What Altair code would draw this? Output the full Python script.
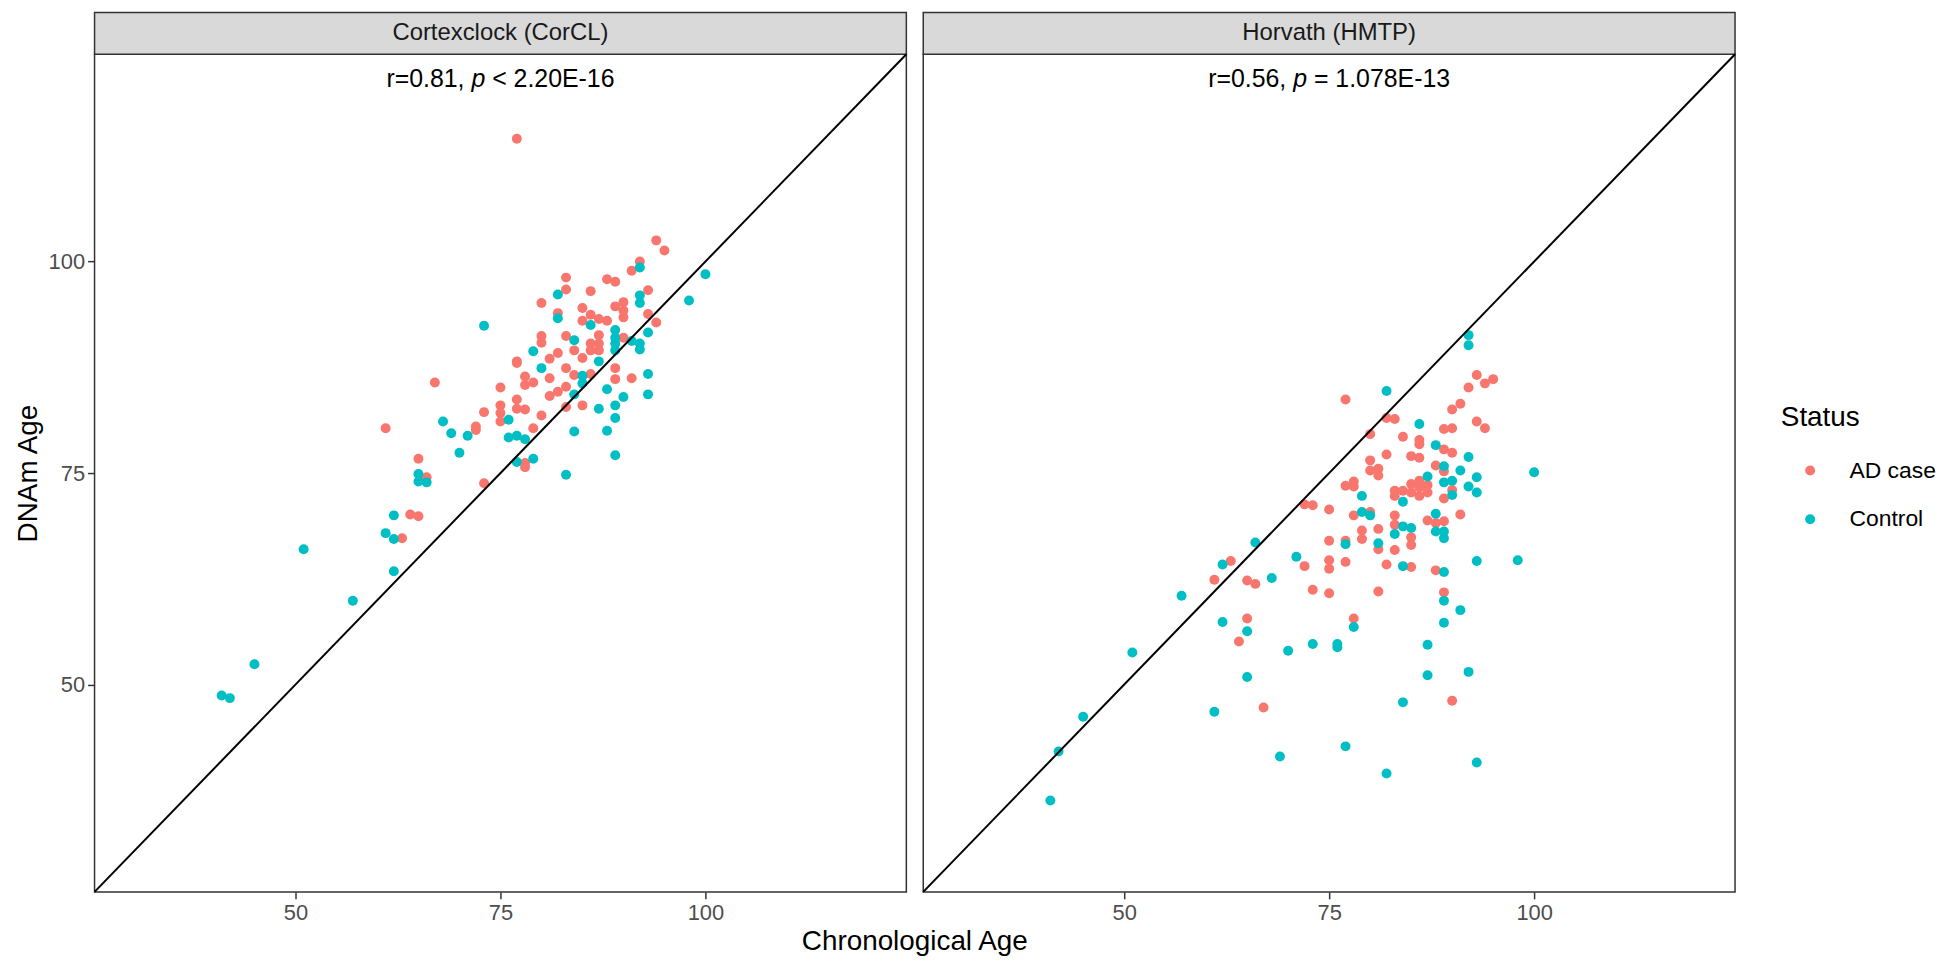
import altair as alt
import pandas as pd

# ---------------- data ----------------
clocks = ["Cortexclock (CorCL)", "Horvath (HMTP)"]
status_levels = ["AD case", "Control"]
status_colors = ["#F8766D", "#00BFC4"]

# (chronological age, DNAm age)
corcl_ad = [
    (63, 67.3), (64, 70.1), (65, 69.9), (66, 74.5), (65, 76.7), (61, 80.3), (72, 80.5), (72, 80.1), (67, 85.7),
    (77, 114.5), (94, 102.5), (95, 101.3), (92, 100.0), (91, 98.9), (88, 97.9), (89, 97.6), (83, 98.1),
    (83, 96.7), (86, 96.5), (93, 96.6), (80, 95.1), (89, 94.7), (90, 95.2), (90, 94.2), (90, 93.4),
    (85, 94.5), (82, 93.9), (86, 93.7), (87, 93.2), (88, 93.0), (85, 93.0), (93, 93.8), (94, 92.8),
    (80, 91.2), (80, 90.4), (83, 91.2), (87, 91.3), (86, 90.3), (87, 90.3), (87, 89.5), (86, 89.5),
    (90, 91.0), (82, 89.2), (81, 88.5), (84, 89.5), (77, 88.2), (85, 88.6),
    (73, 73.8), (78, 76.2), (78, 75.7), (84, 86.6), (86, 86.7), (89, 86.1), (89, 87.4), (91, 86.2),
    (83, 87.4), (81, 86.2), (81, 84.1), (82, 84.6), (83, 85.2), (78, 86.4), (78, 85.4), (79, 85.7),
    (77, 83.7), (77, 82.6), (78, 82.5), (80, 81.8), (75, 85.1), (75, 83.0), (75, 82.1), (75, 81.1),
    (73, 82.2), (79, 80.3), (77, 88.0), (85, 83.0), (83, 82.8),
]
corcl_control = [
    (41, 48.7), (42, 48.4), (45, 52.4), (51, 66.0), (57, 59.9), (62, 63.4), (61, 67.9), (62, 67.2),
    (62, 70.0), (65, 74.0), (66, 73.9), (65, 74.9), (68, 81.1), (69, 79.7), (71, 79.4), (70, 77.4),
    (73, 92.4), (92, 99.3), (100, 98.5), (98, 95.4), (82, 96.1), (92, 96.0), (92, 95.1), (82, 93.3),
    (86, 92.5), (93, 91.6), (84, 90.7), (89, 91.9), (89, 91.0), (89, 90.3), (89, 89.5), (91, 90.6),
    (92, 90.3), (92, 89.6), (79, 89.4), (87, 88.2),
    (76, 81.3), (77, 76.3), (79, 76.7), (83, 74.8), (89, 77.1), (84, 79.9), (88, 80.0), (89, 81.5),
    (89, 83.0), (90, 84.0), (88, 84.9), (87, 82.6), (84, 84.3), (85, 85.6), (85, 86.5), (93, 86.7),
    (93, 84.3), (76, 79.2), (77, 79.4), (78, 79.0), (80, 87.4),
]
hmtp_ad = [
    (65, 57.8), (64, 55.1), (67, 47.3), (63, 64.6), (61, 62.4), (65, 62.3), (66, 61.9),
    (72, 64.0), (75, 64.7), (75, 63.7), (77, 64.5), (82, 64.2), (85, 63.9), (88, 63.5), (73, 61.2),
    (75, 60.8), (81, 61.0), (89, 60.9), (78, 57.8), (90, 48.1),
    (93, 86.6), (95, 86.1), (94, 85.6), (92, 85.1), (91, 83.2), (90, 82.5), (77, 83.7), (82, 81.5),
    (83, 81.4), (93, 81.1), (94, 80.3), (89, 80.2), (90, 80.3), (80, 79.6), (84, 79.3), (86, 78.9),
    (86, 78.4), (89, 77.8), (90, 77.4), (82, 77.2), (85, 77.0), (86, 76.8), (80, 76.5), (80, 75.3),
    (81, 75.5), (81, 74.7), (88, 75.9), (89, 75.2), (85, 73.7), (86, 74.1), (86, 73.3), (87, 73.6),
    (87, 72.7), (90, 73.0), (89, 72.0), (77, 73.5), (78, 74.0), (78, 73.4), (83, 72.9), (83, 72.3),
    (84, 72.9), (85, 72.7), (86, 72.3), (72, 71.3), (73, 71.2), (75, 70.7), (78, 70.0), (80, 70.4),
    (83, 70.0), (83, 68.9), (87, 69.4), (88, 69.1), (89, 69.3), (91, 70.1), (81, 68.4), (79, 68.2),
    (79, 67.2), (75, 67.0), (77, 67.0), (81, 66.0), (85, 67.4), (85, 66.5), (83, 65.9),
]
hmtp_control = [
    (41, 36.3), (42, 42.1), (45, 46.2), (51, 53.8), (57, 60.5), (62, 57.4), (65, 56.3), (65, 50.9),
    (61, 46.8), (69, 41.5), (62, 64.2), (66, 66.8), (68, 62.6), (71, 65.1),
    (84, 64.0), (89, 63.3), (93, 64.6), (98, 64.7), (89, 59.9), (91, 58.8), (89, 57.3), (78, 56.8),
    (70, 54.0), (73, 54.8), (76, 54.8), (76, 54.4), (87, 54.7), (87, 51.1), (92, 51.5), (84, 47.9),
    (77, 42.7), (82, 39.5), (93, 40.8), (77, 66.6), (81, 66.7), (89, 67.3),
    (92, 91.3), (92, 90.1), (82, 84.7), (86, 80.8), (88, 78.3), (92, 76.9), (89, 75.8), (91, 75.3),
    (100, 75.1), (87, 74.6), (89, 73.9), (90, 74.1), (93, 74.5), (92, 73.4), (93, 72.7), (90, 72.4),
    (79, 72.3), (84, 71.6), (79, 70.4), (80, 70.0), (88, 70.2), (84, 68.7), (85, 68.5), (88, 68.1),
    (89, 68.1), (83, 67.8),
]

ann_r = ["r=0.81,", "r=0.56,"]
ann_p = "p"
ann_rest = ["< 2.20E-16", "= 1.078E-13"]
ann_pos = (75, 121.6)        # annotation anchor (age, DNAm age)
identity_line = [25.5, 124.5]  # y = x reference line
axis_ticks = [50, 75, 100]
axis_domain = [25.5, 124.5]

rows = []
for clock, series in [(clocks[0], [("AD case", corcl_ad), ("Control", corcl_control)]),
                      (clocks[1], [("AD case", hmtp_ad), ("Control", hmtp_control)])]:
    for status, pts in series:
        for a, d in pts:
            rows.append({"clock": clock, "status": status, "age": a, "dnam": d})
df = pd.DataFrame(rows)

# ---------------- layout ----------------
W, H = 816, 842
STRIP_H = 42
GAP = 17
FONT = "Liberation Sans"
ANN_SIZE = 25

# Arial / Liberation Sans advance widths (em)
AW = {"r": .333, "=": .584, ".": .278, ",": .278, " ": .278, "<": .584, "E": .667, "-": .333, "p": .556}


def tw(s):
    return sum(AW.get(c, 0.556) for c in s) * ANN_SIZE


def panel(i, show_y):
    d = df[df.clock == clocks[i]]
    xs = alt.Scale(domain=axis_domain, nice=False, zero=False)
    ys = alt.Scale(domain=axis_domain, nice=False, zero=False)
    xaxis = alt.Axis(values=axis_ticks, title=None, grid=False, domain=False, tickSize=7,
                     labelPadding=4, labelFontSize=22, labelColor="#4D4D4D",
                     tickColor="#333333", tickWidth=1.5, labelFont=FONT)
    if show_y:
        yaxis = alt.Axis(values=axis_ticks, title="DNAm Age", grid=False, domain=False, tickSize=7,
                         labelPadding=3, labelFontSize=22, labelColor="#4D4D4D",
                         tickColor="#333333", tickWidth=1.5, labelFont=FONT,
                         titleFontSize=28, titleFont=FONT, titleFontWeight="normal",
                         titleColor="black", titlePadding=6)
    else:
        yaxis = None

    pts = alt.Chart(d).mark_circle(size=100, opacity=1).encode(
        x=alt.X("age:Q", scale=xs, axis=xaxis),
        y=alt.Y("dnam:Q", scale=ys, axis=yaxis),
        color=alt.Color("status:N",
                        scale=alt.Scale(domain=status_levels, range=status_colors),
                        legend=alt.Legend(title="Status", orient="none", legendX=1695, legendY=352,
                                          titleFontSize=28, titleFont=FONT, titleFontWeight="normal",
                                          titleColor="black", titlePadding=27,
                                          labelFontSize=23, labelFont=FONT, labelColor="black",
                                          symbolType="circle", symbolSize=100, symbolStrokeWidth=0,
                                          symbolOpacity=1, symbolOffset=18, labelOffset=28,
                                          rowPadding=25, padding=0)),
    )

    line = alt.Chart(pd.DataFrame({"v": identity_line})).mark_line(color="black", strokeWidth=2).encode(
        x=alt.X("v:Q", scale=xs, axis=xaxis),
        y=alt.Y("v:Q", scale=ys, axis=yaxis),
    )

    lab = pd.DataFrame({"label": [clocks[i]]})
    strip_rect = alt.Chart(lab).mark_rect(fill="#D9D9D9", stroke="#333333", strokeWidth=1.5).encode(
        x=alt.value(0), x2=alt.value(W), y=alt.value(-STRIP_H), y2=alt.value(0))
    strip_text = alt.Chart(lab).mark_text(fontSize=24, font=FONT, color="#1A1A1A").encode(
        x=alt.value(W / 2), y=alt.value(-STRIP_H / 2), text="label:N")

    a = pd.DataFrame({"age": [ann_pos[0]], "dnam": [ann_pos[1]],
                      "r": [ann_r[i]], "p": [ann_p], "rest": [ann_rest[i]]})
    total = tw(ann_r[i]) + tw(" ") + tw(ann_p) + tw(" ") + tw(ann_rest[i])
    left = -total / 2
    base = alt.Chart(a).encode(x=alt.X("age:Q", scale=xs, axis=xaxis),
                               y=alt.Y("dnam:Q", scale=ys, axis=yaxis))
    t1 = base.mark_text(fontSize=ANN_SIZE, font=FONT, color="black", align="right",
                        dx=left + tw(ann_r[i])).encode(text="r:N")
    t2 = base.mark_text(fontSize=ANN_SIZE, font=FONT, color="black", align="left", fontStyle="italic",
                        dx=left + tw(ann_r[i]) + tw(" ")).encode(text="p:N")
    t3 = base.mark_text(fontSize=ANN_SIZE, font=FONT, color="black", align="left",
                        dx=left + tw(ann_r[i]) + 2 * tw(" ") + tw(ann_p)).encode(text="rest:N")

    layers = [strip_rect, strip_text, pts, line, t1, t2, t3]
    if show_y:
        xt = alt.Chart(pd.DataFrame({"t": ["Chronological Age"]})).mark_text(
            fontSize=28, font=FONT, color="black", baseline="middle").encode(
            x=alt.value(W + GAP / 2), y=alt.value(H + 50), text="t:N")
        layers.append(xt)
    return alt.layer(*layers).properties(width=W, height=H)


chart = alt.hconcat(panel(0, True), panel(1, False), spacing=GAP, bounds="flush").properties(
    padding={"left": 5, "top": 0, "right": 0, "bottom": 0}
).configure(font=FONT).configure_view(stroke="#333333", strokeWidth=1.5)

chart.save("out.html", embed_options={"renderer": "svg", "actions": False})
